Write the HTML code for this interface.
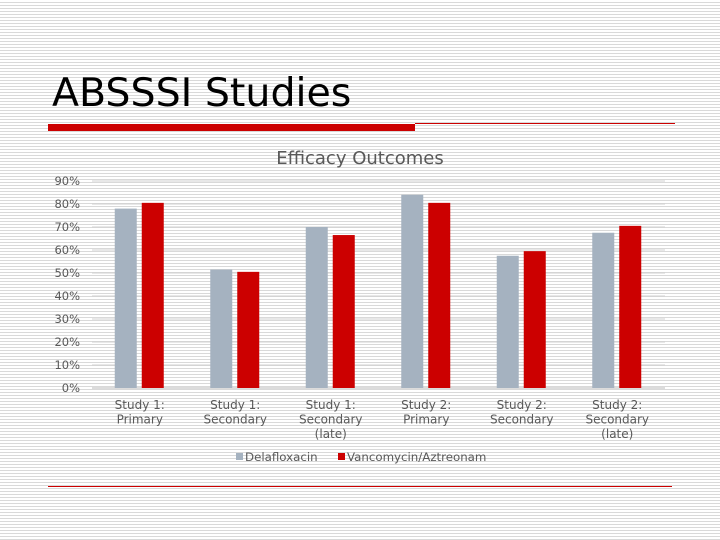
<!DOCTYPE html>
<html><head><meta charset="utf-8"><style>
body{margin:0;}
#page{position:relative;width:720px;height:540px;overflow:hidden;font-family:"DejaVu Sans","Liberation Sans",sans-serif;
background:repeating-linear-gradient(to bottom,#fff 0px,#fff 2px,#d9d9d9 2px,#d9d9d9 3px);}
svg text{font-family:"DejaVu Sans","Liberation Sans",sans-serif;}
</style></head><body>
<div id="page">
<div style="position:absolute;left:52px;top:70px;font-size:39.5px;color:#000;">ABSSSI Studies</div>
<div style="position:absolute;left:48px;top:124px;width:367px;height:7px;background:#cc0000"></div>
<div style="position:absolute;left:415px;top:123px;width:260px;height:1px;background:#cc0000"></div>
<div style="position:absolute;left:48px;top:486px;width:624px;height:1px;background:#cc0000"></div>
<svg id="chart" width="720" height="540" style="position:absolute;left:0;top:0"></svg>
</div>
<script>
const categories=[["Study 1:","Primary"],["Study 1:","Secondary"],["Study 1:","Secondary","(late)"],["Study 2:","Primary"],["Study 2:","Secondary"],["Study 2:","Secondary","(late)"]];
const delafloxacin=[78,51.5,70,84,57.5,67.5];
const vancomycin=[80.5,50.5,66.5,80.5,59.5,70.5];
const yTicks=[0,10,20,30,40,50,60,70,80,90];
const seriesNames=["Delafloxacin","Vancomycin/Aztreonam"];
const svg=document.getElementById('chart');const NS='http://www.w3.org/2000/svg';
const x0=92,x1=665,y0=388,y90=181;
const y=v=>y0-(v/90)*(y0-y90);
const bw=(x1-x0)/categories.length;
const xc=i=>x0+bw*(i+0.5);
function mk(t,a,txt){const e=document.createElementNS(NS,t);for(const k in a)e.setAttribute(k,a[k]);if(txt!==undefined)e.textContent=txt;svg.appendChild(e);return e;}
let e=mk('text',{x:360,y:164,'text-anchor':'middle','font-size':18,fill:'#595959'},'Efficacy Outcomes');


yTicks.forEach(t=>{
 const g=mk('line',{x1:x0,x2:x1,y1:y(t),y2:y(t),stroke:'#d0d0d0','stroke-width':t===0?1.5:1});
 
 
 const l=mk('text',{x:80,y:y(t)+4,'text-anchor':'end','font-size':11.5,fill:'#595959'},t+'%');
 
 
});
categories.forEach((c,i)=>{
 const a=mk('rect',{x:xc(i)-25,y:y(delafloxacin[i]),width:22,height:y0-y(delafloxacin[i]),fill:'#a5b2c0'});
 
 
 const b=mk('rect',{x:xc(i)+2,y:y(vancomycin[i]),width:22,height:y0-y(vancomycin[i]),fill:'#cc0000'});
 
 
 c.forEach((s,j)=>{const t=mk('text',{x:xc(i),y:409+j*14.5,'text-anchor':'middle','font-size':12,fill:'#595959'},s);
 
 });
});
const lx=[236,338],cols=['#a5b2c0','#cc0000'];
seriesNames.forEach((n,i)=>{
 const r=mk('rect',{x:lx[i],y:453,width:7,height:7,fill:cols[i]});
 
 
 const t=mk('text',{x:lx[i]+9,y:461,'font-size':11.8,fill:'#595959'},n);
 
 
});
</script>
</body></html>
